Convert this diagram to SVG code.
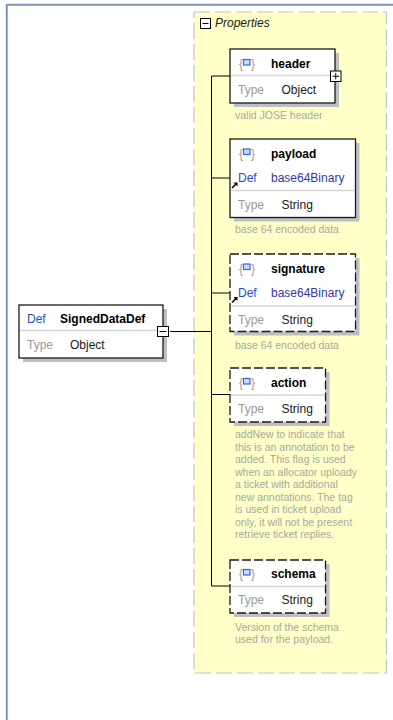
<svg xmlns="http://www.w3.org/2000/svg" width="393" height="720" viewBox="0 0 393 720">
<style>
text{font-family:"Liberation Sans",Arial,sans-serif;}
.box{fill:#ffffff;stroke:#1a1a1a;stroke-width:1.3;}
.dash{stroke-dasharray:9,3;}
.shadow{fill:#bfbfbf;}
.div{stroke:#d6d6d6;stroke-width:1.5;}
.name{font-size:12px;font-weight:bold;fill:#000;}
.lbl{font-size:12px;fill:#9a9a9a;}
.val{font-size:12px;fill:#1a1a1a;}
.def{font-size:12px;fill:#2050d0;}
.defv{font-size:12px;fill:#3535a8;}
.desc{font-size:10.5px;fill:#a8a8a0;}
.brace{font-size:12px;fill:#9a9a9a;}
.conn{stroke:#000;stroke-width:1;fill:none;}
.tog{fill:#fff;stroke:#000;stroke-width:1;}
</style>
<defs>
<g id="elemIcon">
<text class="brace" x="0" y="0">{</text>
<rect x="4.5" y="-8.5" width="6.5" height="5.5" fill="#c8dcff" stroke="#2f68e8" stroke-width="1.2"/>
<text class="brace" x="12" y="0">}</text>
</g>
<g id="refArrow">
<path d="M0,5 L4,1" stroke="#000" stroke-width="1.6" fill="none"/>
<path d="M5.5,-0.5 L1.5,-0.5 L5.5,3.5 Z" fill="#000"/>
</g>
</defs>

<rect x="0" y="0" width="393" height="720" fill="#ffffff"/>
<g id="frame">
<line x1="6" y1="4.8" x2="393" y2="4.8" stroke="#7f95bd" stroke-width="2"/>
<line x1="6.8" y1="4" x2="6.8" y2="720" stroke="#7f95bd" stroke-width="2"/>
</g>

<g id="properties">
<rect x="194" y="12" width="192.5" height="661" fill="#ffffc8" stroke="#c4c4c4" stroke-width="1.2" stroke-dasharray="16,5"/>
<rect class="tog" x="200.5" y="18.5" width="10" height="10"/>
<line x1="202.5" y1="23.5" x2="208.5" y2="23.5" stroke="#000" stroke-width="1"/>
<text x="215" y="27" font-size="12" font-style="italic" fill="#222">Properties</text>
</g>

<g id="connectors">
<line class="conn" x1="170" y1="331.5" x2="211.5" y2="331.5"/>
<polyline class="conn" points="230,76 211.5,76 211.5,586 230,586"/>
<line class="conn" x1="211.5" y1="178" x2="230" y2="178"/>
<line class="conn" x1="211.5" y1="293" x2="230" y2="293"/>
<line class="conn" x1="211.5" y1="394.5" x2="230" y2="394.5"/>
</g>

<g id="SignedDataDef">
<rect class="shadow" x="23" y="309" width="144" height="53"/>
<rect class="box" x="19" y="305" width="144" height="53"/>
<line class="div" x1="20" y1="330.5" x2="162" y2="330.5"/>
<text class="def" x="27" y="323">Def</text>
<text class="name" x="60" y="323">SignedDataDef</text>
<text class="lbl" x="27" y="348.5">Type</text>
<text class="val" x="70" y="348.5">Object</text>
<rect class="tog" x="157.5" y="326.5" width="11" height="10"/>
<line x1="159.5" y1="331.5" x2="166.5" y2="331.5" stroke="#000" stroke-width="1"/>
</g>

<g id="header">
<rect class="shadow" x="234" y="53" width="105" height="54"/>
<rect class="box" x="230" y="49" width="105" height="54"/>
<line class="div" x1="231" y1="75.5" x2="334" y2="75.5"/>
<use href="#elemIcon" x="239" y="68"/>
<text class="name" x="271" y="68">header</text>
<text class="lbl" x="238" y="94">Type</text>
<text class="val" x="281.5" y="94">Object</text>
<rect class="tog" x="330.5" y="71" width="10.5" height="10.5"/>
<line x1="332.5" y1="76.25" x2="339" y2="76.25" stroke="#000" stroke-width="1"/>
<line x1="335.75" y1="73" x2="335.75" y2="79.5" stroke="#000" stroke-width="1"/>
<text class="desc" x="235" y="119">valid JOSE header</text>
</g>

<g id="payload">
<rect class="shadow" x="234" y="143" width="125.5" height="78.5"/>
<rect class="box" x="230" y="139" width="125.5" height="78.5"/>
<line class="div" x1="231" y1="190.5" x2="354.5" y2="190.5"/>
<use href="#elemIcon" x="239" y="157.5"/>
<text class="name" x="271" y="157.5">payload</text>
<use href="#refArrow" x="232" y="183"/>
<text class="def" x="238" y="182">Def</text>
<text class="defv" x="271" y="182">base64Binary</text>
<text class="lbl" x="238" y="208.5">Type</text>
<text class="val" x="281.5" y="208.5">String</text>
<text class="desc" x="235" y="233">base 64 encoded data</text>
</g>

<g id="signature">
<rect class="shadow" x="234" y="258" width="125.5" height="77.5"/>
<rect class="box dash" x="230" y="254" width="125.5" height="77.5"/>
<line class="div" x1="231" y1="306" x2="354.5" y2="306"/>
<use href="#elemIcon" x="239" y="272.5"/>
<text class="name" x="271" y="272.5">signature</text>
<use href="#refArrow" x="232" y="297.5"/>
<text class="def" x="238" y="296.5">Def</text>
<text class="defv" x="271" y="296.5">base64Binary</text>
<text class="lbl" x="238" y="324">Type</text>
<text class="val" x="281.5" y="324">String</text>
<text class="desc" x="235" y="349">base 64 encoded data</text>
</g>

<g id="action">
<rect class="shadow" x="234" y="372" width="95.5" height="54"/>
<rect class="box dash" x="230" y="368" width="95.5" height="54"/>
<line class="div" x1="231" y1="395" x2="324.5" y2="395"/>
<use href="#elemIcon" x="239" y="387"/>
<text class="name" x="271" y="387">action</text>
<text class="lbl" x="238" y="413">Type</text>
<text class="val" x="281.5" y="413">String</text>
<text class="desc" x="235" y="438">addNew to indicate that</text>
<text class="desc" x="235" y="450.5">this is an annotation to be</text>
<text class="desc" x="235" y="463">added. This flag is used</text>
<text class="desc" x="235" y="475.5">when an allocator uploady</text>
<text class="desc" x="235" y="488">a ticket with additional</text>
<text class="desc" x="235" y="500.5">new annotations. The tag</text>
<text class="desc" x="235" y="513">is used in ticket upload</text>
<text class="desc" x="235" y="525.5">only, it will not be present</text>
<text class="desc" x="235" y="538">retrieve ticket replies.</text>
</g>

<g id="schema">
<rect class="shadow" x="234" y="564" width="95.5" height="53"/>
<rect class="box dash" x="230" y="560" width="95.5" height="53"/>
<line class="div" x1="231" y1="586.5" x2="324.5" y2="586.5"/>
<use href="#elemIcon" x="239" y="578"/>
<text class="name" x="271" y="578">schema</text>
<text class="lbl" x="238" y="604">Type</text>
<text class="val" x="281.5" y="604">String</text>
<text class="desc" x="235" y="630.5">Version of the schema</text>
<text class="desc" x="235" y="642.5">used for the payload.</text>
</g>
</svg>
